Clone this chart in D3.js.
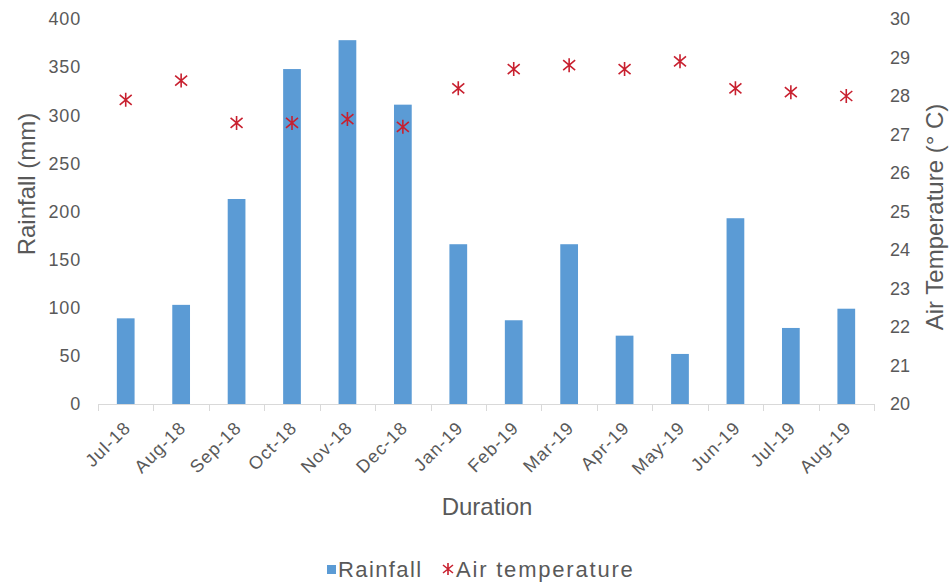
<!DOCTYPE html>
<html><head><meta charset="utf-8">
<script src="https://cdn.jsdelivr.net/npm/d3@7"></script>
<style>body{margin:0;background:#fff}svg{display:block}text{font-family:"Liberation Sans",Arial,sans-serif}</style>
</head><body><svg id="c" width="952" height="585"></svg>
<script>
const months = ["Jul-18","Aug-18","Sep-18","Oct-18","Nov-18","Dec-18","Jan-19","Feb-19","Mar-19","Apr-19","May-19","Jun-19","Jul-19","Aug-19"];
const rainfall = [89,103,213,348,378,311,166,87,166,71,52,193,79,99];
const airTemp = [27.9,28.4,27.3,27.3,27.4,27.2,28.2,28.7,28.8,28.7,28.9,28.2,28.1,28.0];
const rainTicks = [0,50,100,150,200,250,300,350,400];
const tempTicks = [20,21,22,23,24,25,26,27,28,29,30];

const svg = d3.select("#c");
const L = 98, R = 874, T = 19, B = 404;
const gray = "#595959";
const x = d3.scaleBand().domain(months).range([L, R]).paddingInner(0.68).paddingOuter(0.34);
const yL = d3.scaleLinear().domain([0,400]).range([B, T]);
const yR = d3.scaleLinear().domain([20,30]).range([B, T]);

// bars
svg.append("g").selectAll("rect").data(months).join("rect")
  .attr("x", d => x(d)).attr("width", x.bandwidth())
  .attr("y", (d,i) => yL(rainfall[i])).attr("height", (d,i) => B - yL(rainfall[i]))
  .attr("fill", "#5b9bd5");

// x axis line with ticks at category boundaries
const xa = svg.append("g");
xa.append("line").attr("x1", L).attr("x2", R).attr("y1", B+0.5).attr("y2", B+0.5).attr("stroke", "#d9d9d9");
d3.range(months.length+1).forEach(i => {
  const xx = Math.round(L + i*(R-L)/months.length) + 0.5;
  xa.append("line").attr("x1", xx).attr("x2", xx).attr("y1", B).attr("y2", B+7).attr("stroke", "#d9d9d9");
});
xa.selectAll("text.xl").data(months).join("text").attr("class","xl")
  .attr("transform", d => `translate(${x(d)+x.bandwidth()/2+6},${B+25}) rotate(-45)`)
  .attr("text-anchor","end").attr("font-size",18).attr("letter-spacing",1).attr("fill",gray).text(d => d);

// left ticks
svg.append("g").selectAll("text").data(rainTicks).join("text")
  .attr("x", 81).attr("y", d => yL(d)).attr("dy","0.35em").attr("text-anchor","end")
  .attr("font-size",18).attr("letter-spacing",0.8).attr("fill",gray).text(d => d);
// right ticks
svg.append("g").selectAll("text").data(tempTicks).join("text")
  .attr("x", 890).attr("y", d => yR(d)).attr("dy","0.35em").attr("text-anchor","start")
  .attr("font-size",18).attr("fill",gray).text(d => d);

// stars
const star = "M0,-7L0,7M-6,-5L6,5M-6,5L6,-5";
svg.append("g").selectAll("path").data(months).join("path")
  .attr("transform", (d,i) => `translate(${x(d)+x.bandwidth()/2},${yR(airTemp[i])})`)
  .attr("d", star).attr("stroke", "#c8202f").attr("stroke-width", 1.6).attr("fill","none");

// axis titles
svg.append("text").attr("transform","translate(35,184) rotate(-90)").attr("text-anchor","middle")
  .attr("font-size",24).attr("fill",gray).text("Rainfall (mm)");
svg.append("text").attr("transform","translate(943,217) rotate(-90)").attr("text-anchor","middle")
  .attr("font-size",24).attr("fill",gray).text("Air Temperature (° C)");
svg.append("text").attr("x",487).attr("y",515).attr("text-anchor","middle")
  .attr("font-size",24).attr("fill",gray).text("Duration");

// legend
const lg = svg.append("g");
lg.append("rect").attr("x",327).attr("y",565).attr("width",9).attr("height",9).attr("fill","#5b9bd5");
lg.append("text").attr("x",338).attr("y",577).attr("font-size",22).attr("letter-spacing",1.4).attr("fill",gray).text("Rainfall");
lg.append("path").attr("transform","translate(448,569)").attr("d","M0,-6L0,6M-5,-4L5,4M-5,4L5,-4")
  .attr("stroke","#c8202f").attr("stroke-width",1.6);
lg.append("text").attr("x",456).attr("y",577).attr("font-size",22).attr("letter-spacing",1.8).attr("fill",gray).text("Air temperature");
</script></body></html>
